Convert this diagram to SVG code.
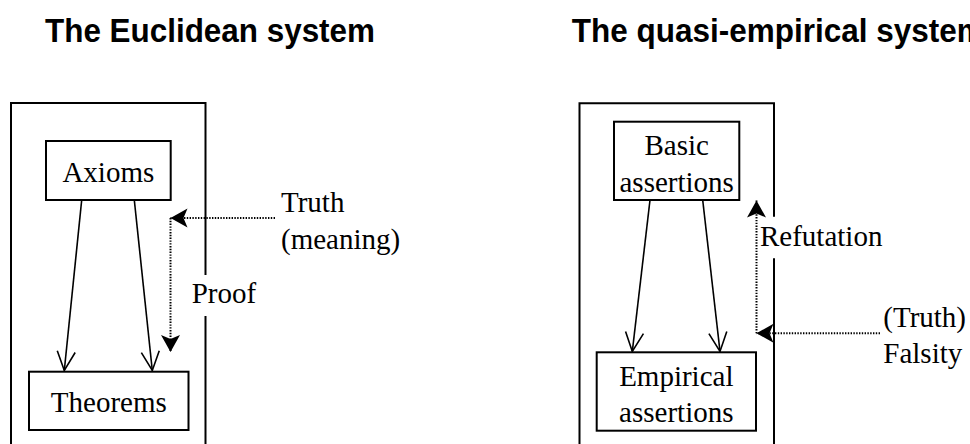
<svg xmlns="http://www.w3.org/2000/svg" width="970" height="444" viewBox="0 0 970 444">
  <style>
    .title { font-family: "Liberation Sans", Arial, sans-serif; font-weight: bold; font-size: 33px; fill: #000; }
    .lbl { font-family: "Liberation Serif", "Times New Roman", serif; font-size: 29px; fill: #000; }
    .mid { text-anchor: middle; }
    .frame { fill: none; stroke: #000; stroke-width: 2; }
    .box { fill: #fff; stroke: #000; stroke-width: 2; }
    .arrow { fill: none; stroke: #000; stroke-width: 1.6; marker-end: url(#open); }
    .dot { fill: none; stroke: #000; stroke-width: 2; stroke-dasharray: 1.4 1.4; }
    .dotend { marker-end: url(#stealth); }
  </style>
  <defs>
    <marker id="open" markerUnits="userSpaceOnUse" markerWidth="24" markerHeight="24" viewBox="-22 -11 24 22" refX="0" refY="0" orient="auto">
      <path d="M-19,-9 L0,0 L-19,9" fill="none" stroke="#000" stroke-width="1.6"/>
    </marker>
    <marker id="stealth" markerUnits="userSpaceOnUse" markerWidth="22" markerHeight="22" viewBox="-18 -11 20 22" refX="0" refY="0" orient="auto">
      <path d="M0,0 L-17,-9.5 L-13,0 L-17,9.5 Z" fill="#000"/>
    </marker>
  </defs>

  <rect width="970" height="444" fill="#fff"/>

  <!-- headings (slightly condensed bold sans) -->
  <text class="title" x="45" y="41.7" textLength="330" lengthAdjust="spacingAndGlyphs">The Euclidean system</text>
  <text class="title" x="571.7" y="41.7" textLength="413" lengthAdjust="spacingAndGlyphs">The quasi-empirical system</text>

  <!-- system frames (right side broken around the side labels) -->
  <path class="frame" d="M11,446 V103 H205.5 V275 M205.5,316 V446"/>
  <path class="frame" d="M579.5,446 V103.3 H774 V216.7 M774,258.3 V446"/>

  <g id="connectors">
    <line class="arrow" x1="81.7" y1="200" x2="64.3" y2="370.5"/>
    <line class="arrow" x1="134.3" y1="200" x2="152.3" y2="370.5"/>
    <line class="arrow" x1="650" y1="200" x2="632.3" y2="351.5"/>
    <line class="arrow" x1="702.7" y1="200" x2="720" y2="351.5"/>
    <!-- Truth / Proof -->
    <line class="dot dotend" x1="275" y1="218" x2="170.5" y2="218"/>
    <line class="dot dotend" x1="170.5" y1="218" x2="170.5" y2="352"/>
    <!-- Falsity / Refutation -->
    <line class="dot dotend" x1="880" y1="333.3" x2="756.5" y2="333.3"/>
    <line class="dot dotend" x1="756.5" y1="333.3" x2="756.5" y2="200.5"/>
  </g>

  <g id="axioms">
    <rect class="box" x="46" y="141" width="124.7" height="59"/>
    <text class="lbl mid" x="108.3" y="181.7">Axioms</text>
  </g>
  <g id="theorems">
    <rect class="box" x="29" y="371.7" width="159.5" height="58.3"/>
    <text class="lbl mid" x="108.8" y="411.7">Theorems</text>
  </g>
  <g id="basic-assertions">
    <rect class="box" x="614" y="121.7" width="125.3" height="78.3"/>
    <text class="lbl mid" x="676.7" y="155">Basic</text>
    <text class="lbl mid" x="676.7" y="191.7">assertions</text>
  </g>
  <g id="empirical-assertions">
    <rect class="box" x="596.7" y="352.3" width="159.3" height="78.4"/>
    <text class="lbl mid" x="676.3" y="386">Empirical</text>
    <text class="lbl mid" x="676.3" y="421.7">assertions</text>
  </g>

  <g id="side-labels">
    <text class="lbl" x="281" y="211.7">Truth</text>
    <text class="lbl" x="281" y="248.5">(meaning)</text>
    <text class="lbl" x="191.7" y="303.3">Proof</text>
    <text class="lbl" x="760" y="246">Refutation</text>
    <text class="lbl" x="883.3" y="326.8">(Truth)</text>
    <text class="lbl" x="883.3" y="363.3">Falsity</text>
  </g>
</svg>
